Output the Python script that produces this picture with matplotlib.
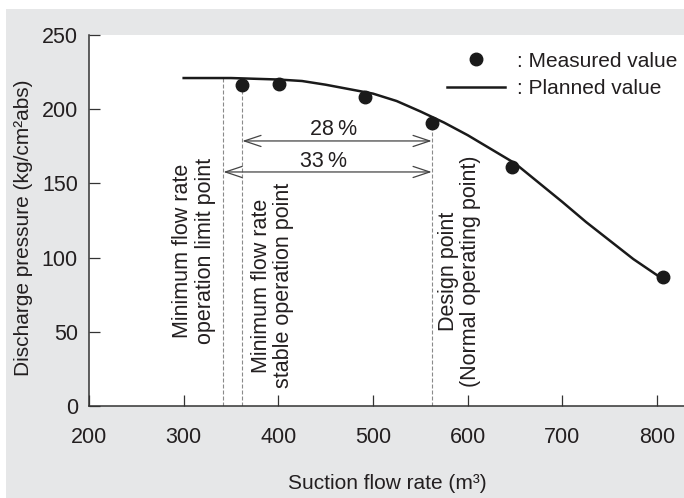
import matplotlib.pyplot as plt
from matplotlib.patches import Rectangle

plt.rcParams['font.family'] = ['Liberation Sans', 'DejaVu Sans']

# === DADOS ===
planned_x = [300, 350, 400, 425, 450, 475, 500, 525, 550, 575, 600, 625, 650, 675, 700, 725, 750, 775, 805]
planned_y = [221, 221, 220, 219, 216.5, 213.5, 210.5, 205.5, 198.5, 191, 182.5, 173, 163.5, 150.5, 137.5, 124, 111.5, 99, 86]

measured_x = [362, 401, 492, 562, 647, 806]
measured_y = [216, 217, 208, 191, 161, 87]

# pontos de referencia (vazao) e ate onde a linha tracejada sobe
ref_x = [342, 362, 562]
ref_top = [221, 216, 191]

x_ticks = [200, 300, 400, 500, 600, 700, 800]
y_ticks = [0, 50, 100, 150, 200, 250]

TEXT = '#231f20'
BG = '#e6e7e8'

fig = plt.figure(figsize=(6.84, 4.98), dpi=100, facecolor='white')
fig.patches.append(Rectangle((6 / 684, 0), 1, 489 / 498, transform=fig.transFigure,
                             facecolor=BG, edgecolor='none', zorder=-10))

ax = fig.add_axes([89 / 684, 92 / 498, 595 / 684, 371 / 498])
ax.set_facecolor('white')
ax.set_xlim(200, 828.5)
ax.set_ylim(0, 250)
for s in ['top', 'right']:
    ax.spines[s].set_visible(False)
for s in ['left', 'bottom']:
    ax.spines[s].set_color('#333333')
    ax.spines[s].set_linewidth(1.1)

ax.set_xticks(x_ticks)
ax.set_yticks(y_ticks)
ax.tick_params(direction='in', length=8, width=0.9, color='#333333',
               labelsize=15.5, labelcolor=TEXT)
ax.tick_params(axis='x', pad=15)
ax.tick_params(axis='y', pad=8)

# linhas verticais tracejadas
ax.vlines(ref_x, 0, ref_top, colors='#8a8a8a', linewidth=0.8,
          linestyles=[(0, (3.6, 1.8))], zorder=1)

# curva planejada e pontos medidos
ax.plot(planned_x, planned_y, color='#1a1a1a', linewidth=1.8, zorder=3,
        label=': Planned value')
ax.plot(measured_x, measured_y, 'o', color='#1a1a1a', markersize=9, zorder=4,
        label=': Measured value')

# setas 28% e 33%
arrow = dict(arrowstyle='<->,head_length=1.2,head_width=0.4', color='#444444',
             linewidth=0.9, shrinkA=0, shrinkB=0, mutation_scale=10)
ax.annotate('', xy=(ref_x[1], 178.6), xytext=(ref_x[2], 178.6), arrowprops=arrow)
ax.annotate('', xy=(ref_x[0], 157.7), xytext=(ref_x[2], 157.7), arrowprops=arrow)
ax.text(458, 186.5, '28\u2009%', fontsize=15.5, color=TEXT, ha='center', va='center')
ax.text(448, 165, '33\u2009%', fontsize=15.5, color=TEXT, ha='center', va='center')

# textos verticais
ax.text(311, 104.4, 'Minimum flow rate\noperation limit point', rotation=90,
        fontsize=15.5, color=TEXT, ha='center', va='center', multialignment='center',
        linespacing=1.08)
ax.text(394, 81.2, 'Minimum flow rate\nstable operation point', rotation=90,
        fontsize=15.5, color=TEXT, ha='center', va='center', multialignment='center',
        linespacing=1.08)
ax.text(591, 91, 'Design point\n(Normal operating point)', rotation=90,
        fontsize=15.5, color=TEXT, ha='center', va='center', multialignment='center',
        linespacing=1.08)

# legenda
handles, labels = ax.get_legend_handles_labels()
leg = ax.legend(handles[::-1], labels[::-1], loc='upper left',
                bbox_to_anchor=((447 - 89) / 595, 0.955), frameon=False,
                fontsize=15, handlelength=2.8, handletextpad=0.55,
                labelspacing=0.4, borderpad=0, borderaxespad=0)
for t in leg.get_texts():
    t.set_color(TEXT)

fig.text(24 / 684, 1 - 228 / 498, 'Discharge pressure (kg/cm²abs)', rotation=90,
         fontsize=15, color=TEXT, ha='center', va='center')
fig.text(387 / 684, 1 - 483 / 498, 'Suction flow rate (m³)',
         fontsize=15, color=TEXT, ha='center', va='center')

fig.savefig('out.png', dpi=100, facecolor=fig.get_facecolor())
